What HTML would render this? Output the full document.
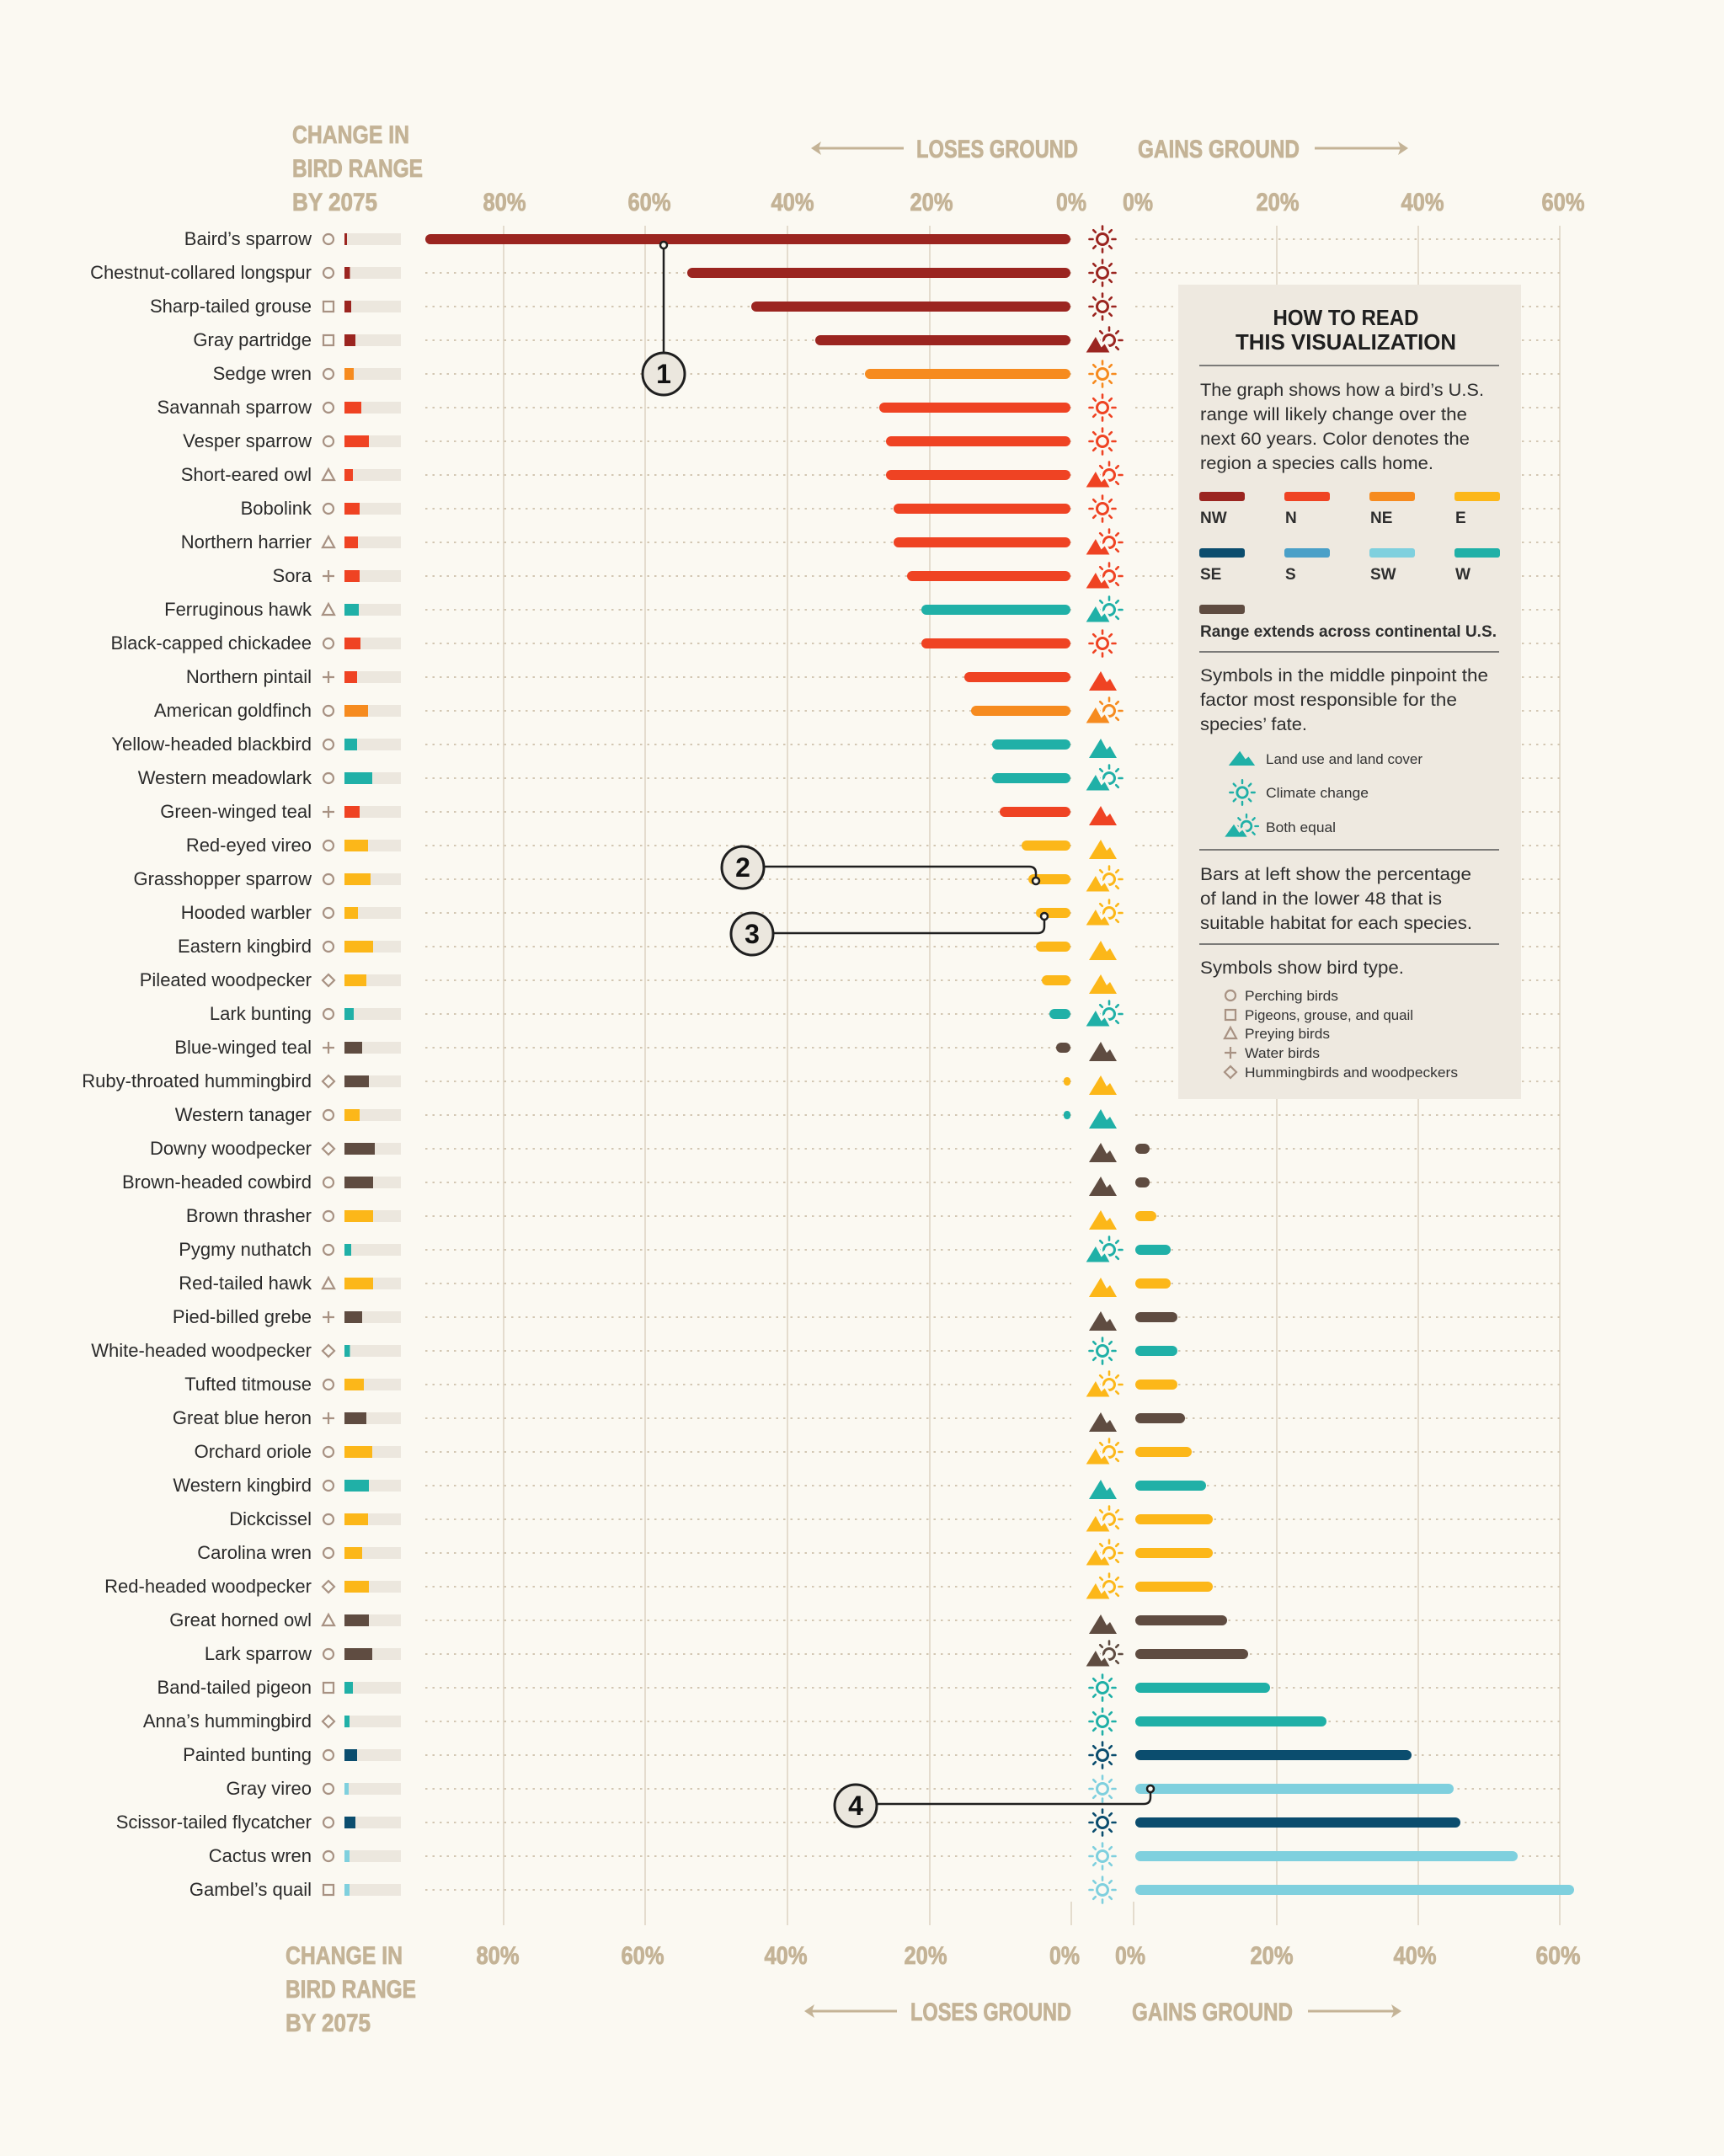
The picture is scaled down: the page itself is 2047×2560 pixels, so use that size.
<!DOCTYPE html>
<html><head><meta charset="utf-8"><style>
html,body{margin:0;padding:0;background:#fbf9f2}
svg{display:block}
.lbl{font-family:"Liberation Sans",sans-serif;font-size:22px;fill:#2b2b2b;text-anchor:end}
.hd{font-family:"Liberation Sans",sans-serif;font-weight:bold;font-size:30px;fill:#c4b396;stroke:#c4b396;stroke-width:0.8}
.ax{font-family:"Liberation Sans",sans-serif;font-weight:bold;font-size:30px;fill:#c4b396;stroke:#c4b396;stroke-width:0.8;text-anchor:middle}
.lg{font-family:"Liberation Sans",sans-serif;font-size:21px;fill:#2e2e2e}
.lgs{font-family:"Liberation Sans",sans-serif;font-size:17px;fill:#333}
.lgb{font-family:"Liberation Sans",sans-serif;font-size:19px;font-weight:bold;fill:#2e2e2e}
.nw{fill:#9b2520;color:#9b2520}.n{fill:#ef4323;color:#ef4323}.ne{fill:#f68b1f;color:#f68b1f}.e{fill:#fcb719;color:#fcb719}
.se{fill:#0b4d6e;color:#0b4d6e}.s{fill:#4aa0c8;color:#4aa0c8}.sw{fill:#7fd0de;color:#7fd0de}.w{fill:#20b0a7;color:#20b0a7}.br{fill:#5f4c41;color:#5f4c41}
.bg{fill:#ece7de}
.ts{fill:none;stroke:#a89283;stroke-width:2.2}
.dl{stroke:#d3c7b3;stroke-width:2;stroke-dasharray:2.5 6}
</style></head><body>
<svg width="2047" height="2560" viewBox="0 0 2047 2560" xmlns="http://www.w3.org/2000/svg" xmlns:xlink="http://www.w3.org/1999/xlink">
<defs>
<g id="sun" fill="none" stroke="currentColor" stroke-width="3" stroke-linecap="round"><circle r="6.5"/><path stroke-width="2.6" d="M0,-11.5V-15.5M0,11.5V15.5M11.5,0H15.5M-11.5,0H-15.5M8.2,-8.2L10.8,-10.8M-8.2,-8.2L-10.8,-10.8M8.2,8.2L10.8,10.8M-8.2,8.2L-10.8,10.8"/></g>
<path id="mtn" d="M-16,16 L-2,-7 L5,6 L9,2 L17,16Z" fill="currentColor"/>
<circle id="tO" cx="390" cy="0" r="6" class="ts"/>
<rect id="tS" x="384" y="-6" width="12" height="12" class="ts"/>
<polygon id="tT" points="390,-7 397,6 383,6" class="ts"/>
<path id="tP" d="M383,0H397M390,-7V7" class="ts"/>
<polygon id="tD" points="390,-7 397,0 390,7 383,0" class="ts"/>
</defs>
<rect width="2047" height="2560" fill="#fbf9f2"/>

<g stroke="#ddd2c1" stroke-width="1.5">
<line x1="598" y1="268" x2="598" y2="2286"/><line x1="766" y1="268" x2="766" y2="2286"/>
<line x1="935" y1="268" x2="935" y2="2286"/><line x1="1104" y1="268" x2="1104" y2="2286"/>
<line x1="1516" y1="268" x2="1516" y2="2286"/><line x1="1684" y1="268" x2="1684" y2="2286"/>
<line x1="1852" y1="268" x2="1852" y2="2286"/>
<line x1="1272" y1="2258" x2="1272" y2="2286"/><line x1="1346" y1="2258" x2="1346" y2="2286"/>
</g>
<g class="dl">
<path d="M505,284H1272M1348,284H1852M505,324H1272M1348,324H1852M505,364H1272M1348,364H1852M505,404H1272M1348,404H1852M505,444H1272M1348,444H1852M505,484H1272M1348,484H1852M505,524H1272M1348,524H1852M505,564H1272M1348,564H1852M505,604H1272M1348,604H1852M505,644H1272M1348,644H1852M505,684H1272M1348,684H1852M505,724H1272M1348,724H1852M505,764H1272M1348,764H1852M505,804H1272M1348,804H1852M505,844H1272M1348,844H1852M505,884H1272M1348,884H1852M505,924H1272M1348,924H1852M505,964H1272M1348,964H1852M505,1004H1272M1348,1004H1852M505,1044H1272M1348,1044H1852M505,1084H1272M1348,1084H1852M505,1124H1272M1348,1124H1852M505,1164H1272M1348,1164H1852M505,1204H1272M1348,1204H1852M505,1244H1272M1348,1244H1852M505,1284H1272M1348,1284H1852M505,1324H1272M1348,1324H1852M505,1364H1272M1348,1364H1852M505,1404H1272M1348,1404H1852M505,1444H1272M1348,1444H1852M505,1484H1272M1348,1484H1852M505,1524H1272M1348,1524H1852M505,1564H1272M1348,1564H1852M505,1604H1272M1348,1604H1852M505,1644H1272M1348,1644H1852M505,1684H1272M1348,1684H1852M505,1724H1272M1348,1724H1852M505,1764H1272M1348,1764H1852M505,1804H1272M1348,1804H1852M505,1844H1272M1348,1844H1852M505,1884H1272M1348,1884H1852M505,1924H1272M1348,1924H1852M505,1964H1272M1348,1964H1852M505,2004H1272M1348,2004H1852M505,2044H1272M1348,2044H1852M505,2084H1272M1348,2084H1852M505,2124H1272M1348,2124H1852M505,2164H1272M1348,2164H1852M505,2204H1272M1348,2204H1852M505,2244H1272M1348,2244H1852"/>
</g>

<text class="hd" x="347" y="170" textLength="139" lengthAdjust="spacingAndGlyphs">CHANGE IN</text>
<text class="hd" x="347" y="210" textLength="155" lengthAdjust="spacingAndGlyphs">BIRD RANGE</text>
<text class="hd" x="347" y="250" textLength="101" lengthAdjust="spacingAndGlyphs">BY 2075</text>
<text class="hd" x="1088" y="187" textLength="192" lengthAdjust="spacingAndGlyphs">LOSES GROUND</text>
<text class="hd" x="1351" y="187" textLength="192" lengthAdjust="spacingAndGlyphs">GAINS GROUND</text>
<g stroke="#c4b396" stroke-width="3" fill="#c4b396"><line x1="968" y1="176" x2="1073" y2="176"/><polygon points="963,176 975,168 972,176 975,184" stroke="none"/>
<line x1="1561" y1="176" x2="1667" y2="176"/><polygon points="1672,176 1660,168 1663,176 1660,184" stroke="none"/></g>
<g>
<text class="ax" x="599" y="250" textLength="51" lengthAdjust="spacingAndGlyphs">80%</text>
<text class="ax" x="771" y="250" textLength="51" lengthAdjust="spacingAndGlyphs">60%</text>
<text class="ax" x="941" y="250" textLength="51" lengthAdjust="spacingAndGlyphs">40%</text>
<text class="ax" x="1106" y="250" textLength="51" lengthAdjust="spacingAndGlyphs">20%</text>
<text class="ax" x="1272" y="250" textLength="36" lengthAdjust="spacingAndGlyphs">0%</text>
<text class="ax" x="1351" y="250" textLength="36" lengthAdjust="spacingAndGlyphs">0%</text>
<text class="ax" x="1517" y="250" textLength="51" lengthAdjust="spacingAndGlyphs">20%</text>
<text class="ax" x="1689" y="250" textLength="51" lengthAdjust="spacingAndGlyphs">40%</text>
<text class="ax" x="1856" y="250" textLength="51" lengthAdjust="spacingAndGlyphs">60%</text>
</g>
<text class="hd" x="339" y="2332" textLength="139" lengthAdjust="spacingAndGlyphs">CHANGE IN</text>
<text class="hd" x="339" y="2372" textLength="155" lengthAdjust="spacingAndGlyphs">BIRD RANGE</text>
<text class="hd" x="339" y="2412" textLength="101" lengthAdjust="spacingAndGlyphs">BY 2075</text>
<text class="hd" x="1081" y="2399" textLength="191" lengthAdjust="spacingAndGlyphs">LOSES GROUND</text>
<text class="hd" x="1344" y="2399" textLength="191" lengthAdjust="spacingAndGlyphs">GAINS GROUND</text>
<g stroke="#c4b396" stroke-width="3" fill="#c4b396"><line x1="960" y1="2388" x2="1065" y2="2388"/><polygon points="955,2388 967,2380 964,2388 967,2396" stroke="none"/>
<line x1="1553" y1="2388" x2="1659" y2="2388"/><polygon points="1664,2388 1652,2380 1655,2388 1652,2396" stroke="none"/></g>
<g>
<text class="ax" x="591" y="2332" textLength="51" lengthAdjust="spacingAndGlyphs">80%</text>
<text class="ax" x="763" y="2332" textLength="51" lengthAdjust="spacingAndGlyphs">60%</text>
<text class="ax" x="933" y="2332" textLength="51" lengthAdjust="spacingAndGlyphs">40%</text>
<text class="ax" x="1099" y="2332" textLength="51" lengthAdjust="spacingAndGlyphs">20%</text>
<text class="ax" x="1264" y="2332" textLength="36" lengthAdjust="spacingAndGlyphs">0%</text>
<text class="ax" x="1342" y="2332" textLength="36" lengthAdjust="spacingAndGlyphs">0%</text>
<text class="ax" x="1510" y="2332" textLength="51" lengthAdjust="spacingAndGlyphs">20%</text>
<text class="ax" x="1680" y="2332" textLength="51" lengthAdjust="spacingAndGlyphs">40%</text>
<text class="ax" x="1850" y="2332" textLength="53" lengthAdjust="spacingAndGlyphs">60%</text>
</g>

<rect x="1399" y="338" width="407" height="967" fill="#eee9e0"/>
<g stroke="#555" stroke-width="1.5"><line x1="1424" y1="434" x2="1780" y2="434"/><line x1="1424" y1="774" x2="1780" y2="774"/><line x1="1424" y1="1009" x2="1780" y2="1009"/><line x1="1424" y1="1121" x2="1780" y2="1121"/></g>

<g transform="translate(0,284)"><text class="lbl" x="370" y="7">Baird’s sparrow</text><use href="#tO"/><rect class="bg" x="409" y="-7" width="67" height="14"/><rect class="nw" x="409" y="-7" width="3" height="14"/><rect class="nw" x="505" y="-6" width="766" height="12" rx="6"/><use href="#sun" x="1309" class="nw"/></g>
<g transform="translate(0,324)"><text class="lbl" x="370" y="7">Chestnut-collared longspur</text><use href="#tO"/><rect class="bg" x="409" y="-7" width="67" height="14"/><rect class="nw" x="409" y="-7" width="6.5" height="14"/><rect class="nw" x="816" y="-6" width="455" height="12" rx="6"/><use href="#sun" x="1309" class="nw"/></g>
<g transform="translate(0,364)"><text class="lbl" x="370" y="7">Sharp-tailed grouse</text><use href="#tS"/><rect class="bg" x="409" y="-7" width="67" height="14"/><rect class="nw" x="409" y="-7" width="8" height="14"/><rect class="nw" x="892" y="-6" width="379" height="12" rx="6"/><use href="#sun" x="1309" class="nw"/></g>
<g transform="translate(0,404)"><text class="lbl" x="370" y="7">Gray partridge</text><use href="#tS"/><rect class="bg" x="409" y="-7" width="67" height="14"/><rect class="nw" x="409" y="-7" width="13" height="14"/><rect class="nw" x="968" y="-6" width="303" height="12" rx="6"/><use href="#sun" x="1317" class="nw"/><use href="#mtn" x="1303" class="nw" stroke="#fbf9f2" stroke-width="3"/></g>
<g transform="translate(0,444)"><text class="lbl" x="370" y="7">Sedge wren</text><use href="#tO"/><rect class="bg" x="409" y="-7" width="67" height="14"/><rect class="ne" x="409" y="-7" width="11" height="14"/><rect class="ne" x="1027" y="-6" width="244" height="12" rx="6"/><use href="#sun" x="1309" class="ne"/></g>
<g transform="translate(0,484)"><text class="lbl" x="370" y="7">Savannah sparrow</text><use href="#tO"/><rect class="bg" x="409" y="-7" width="67" height="14"/><rect class="n" x="409" y="-7" width="20" height="14"/><rect class="n" x="1044" y="-6" width="227" height="12" rx="6"/><use href="#sun" x="1309" class="n"/></g>
<g transform="translate(0,524)"><text class="lbl" x="370" y="7">Vesper sparrow</text><use href="#tO"/><rect class="bg" x="409" y="-7" width="67" height="14"/><rect class="n" x="409" y="-7" width="29" height="14"/><rect class="n" x="1052" y="-6" width="219" height="12" rx="6"/><use href="#sun" x="1309" class="n"/></g>
<g transform="translate(0,564)"><text class="lbl" x="370" y="7">Short-eared owl</text><use href="#tT"/><rect class="bg" x="409" y="-7" width="67" height="14"/><rect class="n" x="409" y="-7" width="10" height="14"/><rect class="n" x="1052" y="-6" width="219" height="12" rx="6"/><use href="#sun" x="1317" class="n"/><use href="#mtn" x="1303" class="n" stroke="#fbf9f2" stroke-width="3"/></g>
<g transform="translate(0,604)"><text class="lbl" x="370" y="7">Bobolink</text><use href="#tO"/><rect class="bg" x="409" y="-7" width="67" height="14"/><rect class="n" x="409" y="-7" width="18" height="14"/><rect class="n" x="1061" y="-6" width="210" height="12" rx="6"/><use href="#sun" x="1309" class="n"/></g>
<g transform="translate(0,644)"><text class="lbl" x="370" y="7">Northern harrier</text><use href="#tT"/><rect class="bg" x="409" y="-7" width="67" height="14"/><rect class="n" x="409" y="-7" width="16" height="14"/><rect class="n" x="1061" y="-6" width="210" height="12" rx="6"/><use href="#sun" x="1317" class="n"/><use href="#mtn" x="1303" class="n" stroke="#fbf9f2" stroke-width="3"/></g>
<g transform="translate(0,684)"><text class="lbl" x="370" y="7">Sora</text><use href="#tP"/><rect class="bg" x="409" y="-7" width="67" height="14"/><rect class="n" x="409" y="-7" width="18" height="14"/><rect class="n" x="1077" y="-6" width="194" height="12" rx="6"/><use href="#sun" x="1317" class="n"/><use href="#mtn" x="1303" class="n" stroke="#fbf9f2" stroke-width="3"/></g>
<g transform="translate(0,724)"><text class="lbl" x="370" y="7">Ferruginous hawk</text><use href="#tT"/><rect class="bg" x="409" y="-7" width="67" height="14"/><rect class="w" x="409" y="-7" width="17" height="14"/><rect class="w" x="1094" y="-6" width="177" height="12" rx="6"/><use href="#sun" x="1317" class="w"/><use href="#mtn" x="1303" class="w" stroke="#fbf9f2" stroke-width="3"/></g>
<g transform="translate(0,764)"><text class="lbl" x="370" y="7">Black-capped chickadee</text><use href="#tO"/><rect class="bg" x="409" y="-7" width="67" height="14"/><rect class="n" x="409" y="-7" width="19" height="14"/><rect class="n" x="1094" y="-6" width="177" height="12" rx="6"/><use href="#sun" x="1309" class="n"/></g>
<g transform="translate(0,804)"><text class="lbl" x="370" y="7">Northern pintail</text><use href="#tP"/><rect class="bg" x="409" y="-7" width="67" height="14"/><rect class="n" x="409" y="-7" width="15" height="14"/><rect class="n" x="1145" y="-6" width="126" height="12" rx="6"/><use href="#mtn" x="1309" class="n"/></g>
<g transform="translate(0,844)"><text class="lbl" x="370" y="7">American goldfinch</text><use href="#tO"/><rect class="bg" x="409" y="-7" width="67" height="14"/><rect class="ne" x="409" y="-7" width="28" height="14"/><rect class="ne" x="1153" y="-6" width="118" height="12" rx="6"/><use href="#sun" x="1317" class="ne"/><use href="#mtn" x="1303" class="ne" stroke="#fbf9f2" stroke-width="3"/></g>
<g transform="translate(0,884)"><text class="lbl" x="370" y="7">Yellow-headed blackbird</text><use href="#tO"/><rect class="bg" x="409" y="-7" width="67" height="14"/><rect class="w" x="409" y="-7" width="15" height="14"/><rect class="w" x="1178" y="-6" width="93" height="12" rx="6"/><use href="#mtn" x="1309" class="w"/></g>
<g transform="translate(0,924)"><text class="lbl" x="370" y="7">Western meadowlark</text><use href="#tO"/><rect class="bg" x="409" y="-7" width="67" height="14"/><rect class="w" x="409" y="-7" width="33" height="14"/><rect class="w" x="1178" y="-6" width="93" height="12" rx="6"/><use href="#sun" x="1317" class="w"/><use href="#mtn" x="1303" class="w" stroke="#fbf9f2" stroke-width="3"/></g>
<g transform="translate(0,964)"><text class="lbl" x="370" y="7">Green-winged teal</text><use href="#tP"/><rect class="bg" x="409" y="-7" width="67" height="14"/><rect class="n" x="409" y="-7" width="18" height="14"/><rect class="n" x="1187" y="-6" width="84" height="12" rx="6"/><use href="#mtn" x="1309" class="n"/></g>
<g transform="translate(0,1004)"><text class="lbl" x="370" y="7">Red-eyed vireo</text><use href="#tO"/><rect class="bg" x="409" y="-7" width="67" height="14"/><rect class="e" x="409" y="-7" width="28" height="14"/><rect class="e" x="1213" y="-6" width="58" height="12" rx="6"/><use href="#mtn" x="1309" class="e"/></g>
<g transform="translate(0,1044)"><text class="lbl" x="370" y="7">Grasshopper sparrow</text><use href="#tO"/><rect class="bg" x="409" y="-7" width="67" height="14"/><rect class="e" x="409" y="-7" width="31" height="14"/><rect class="e" x="1221" y="-6" width="50" height="12" rx="6"/><use href="#sun" x="1317" class="e"/><use href="#mtn" x="1303" class="e" stroke="#fbf9f2" stroke-width="3"/></g>
<g transform="translate(0,1084)"><text class="lbl" x="370" y="7">Hooded warbler</text><use href="#tO"/><rect class="bg" x="409" y="-7" width="67" height="14"/><rect class="e" x="409" y="-7" width="16" height="14"/><rect class="e" x="1230" y="-6" width="41" height="12" rx="6"/><use href="#sun" x="1317" class="e"/><use href="#mtn" x="1303" class="e" stroke="#fbf9f2" stroke-width="3"/></g>
<g transform="translate(0,1124)"><text class="lbl" x="370" y="7">Eastern kingbird</text><use href="#tO"/><rect class="bg" x="409" y="-7" width="67" height="14"/><rect class="e" x="409" y="-7" width="34" height="14"/><rect class="e" x="1230" y="-6" width="41" height="12" rx="6"/><use href="#mtn" x="1309" class="e"/></g>
<g transform="translate(0,1164)"><text class="lbl" x="370" y="7">Pileated woodpecker</text><use href="#tD"/><rect class="bg" x="409" y="-7" width="67" height="14"/><rect class="e" x="409" y="-7" width="26" height="14"/><rect class="e" x="1237" y="-6" width="34" height="12" rx="6"/><use href="#mtn" x="1309" class="e"/></g>
<g transform="translate(0,1204)"><text class="lbl" x="370" y="7">Lark bunting</text><use href="#tO"/><rect class="bg" x="409" y="-7" width="67" height="14"/><rect class="w" x="409" y="-7" width="11" height="14"/><rect class="w" x="1246" y="-6" width="25" height="12" rx="6"/><use href="#sun" x="1317" class="w"/><use href="#mtn" x="1303" class="w" stroke="#fbf9f2" stroke-width="3"/></g>
<g transform="translate(0,1244)"><text class="lbl" x="370" y="7">Blue-winged teal</text><use href="#tP"/><rect class="bg" x="409" y="-7" width="67" height="14"/><rect class="br" x="409" y="-7" width="21" height="14"/><rect class="br" x="1254" y="-6" width="17" height="12" rx="6"/><use href="#mtn" x="1309" class="br"/></g>
<g transform="translate(0,1284)"><text class="lbl" x="370" y="7">Ruby-throated hummingbird</text><use href="#tD"/><rect class="bg" x="409" y="-7" width="67" height="14"/><rect class="br" x="409" y="-7" width="29" height="14"/><rect class="e" x="1263" y="-5" width="8" height="10" rx="4"/><use href="#mtn" x="1309" class="e"/></g>
<g transform="translate(0,1324)"><text class="lbl" x="370" y="7">Western tanager</text><use href="#tO"/><rect class="bg" x="409" y="-7" width="67" height="14"/><rect class="e" x="409" y="-7" width="18" height="14"/><rect class="w" x="1263" y="-5" width="8" height="10" rx="4"/><use href="#mtn" x="1309" class="w"/></g>
<g transform="translate(0,1364)"><text class="lbl" x="370" y="7">Downy woodpecker</text><use href="#tD"/><rect class="bg" x="409" y="-7" width="67" height="14"/><rect class="br" x="409" y="-7" width="36" height="14"/><rect class="br" x="1348" y="-6" width="17" height="12" rx="6"/><use href="#mtn" x="1309" class="br"/></g>
<g transform="translate(0,1404)"><text class="lbl" x="370" y="7">Brown-headed cowbird</text><use href="#tO"/><rect class="bg" x="409" y="-7" width="67" height="14"/><rect class="br" x="409" y="-7" width="34" height="14"/><rect class="br" x="1348" y="-6" width="17" height="12" rx="6"/><use href="#mtn" x="1309" class="br"/></g>
<g transform="translate(0,1444)"><text class="lbl" x="370" y="7">Brown thrasher</text><use href="#tO"/><rect class="bg" x="409" y="-7" width="67" height="14"/><rect class="e" x="409" y="-7" width="34" height="14"/><rect class="e" x="1348" y="-6" width="25" height="12" rx="6"/><use href="#mtn" x="1309" class="e"/></g>
<g transform="translate(0,1484)"><text class="lbl" x="370" y="7">Pygmy nuthatch</text><use href="#tO"/><rect class="bg" x="409" y="-7" width="67" height="14"/><rect class="w" x="409" y="-7" width="8" height="14"/><rect class="w" x="1348" y="-6" width="42" height="12" rx="6"/><use href="#sun" x="1317" class="w"/><use href="#mtn" x="1303" class="w" stroke="#fbf9f2" stroke-width="3"/></g>
<g transform="translate(0,1524)"><text class="lbl" x="370" y="7">Red-tailed hawk</text><use href="#tT"/><rect class="bg" x="409" y="-7" width="67" height="14"/><rect class="e" x="409" y="-7" width="34" height="14"/><rect class="e" x="1348" y="-6" width="42" height="12" rx="6"/><use href="#mtn" x="1309" class="e"/></g>
<g transform="translate(0,1564)"><text class="lbl" x="370" y="7">Pied-billed grebe</text><use href="#tP"/><rect class="bg" x="409" y="-7" width="67" height="14"/><rect class="br" x="409" y="-7" width="21" height="14"/><rect class="br" x="1348" y="-6" width="50" height="12" rx="6"/><use href="#mtn" x="1309" class="br"/></g>
<g transform="translate(0,1604)"><text class="lbl" x="370" y="7">White-headed woodpecker</text><use href="#tD"/><rect class="bg" x="409" y="-7" width="67" height="14"/><rect class="w" x="409" y="-7" width="6.5" height="14"/><rect class="w" x="1348" y="-6" width="50" height="12" rx="6"/><use href="#sun" x="1309" class="w"/></g>
<g transform="translate(0,1644)"><text class="lbl" x="370" y="7">Tufted titmouse</text><use href="#tO"/><rect class="bg" x="409" y="-7" width="67" height="14"/><rect class="e" x="409" y="-7" width="23" height="14"/><rect class="e" x="1348" y="-6" width="50" height="12" rx="6"/><use href="#sun" x="1317" class="e"/><use href="#mtn" x="1303" class="e" stroke="#fbf9f2" stroke-width="3"/></g>
<g transform="translate(0,1684)"><text class="lbl" x="370" y="7">Great blue heron</text><use href="#tP"/><rect class="bg" x="409" y="-7" width="67" height="14"/><rect class="br" x="409" y="-7" width="26" height="14"/><rect class="br" x="1348" y="-6" width="59" height="12" rx="6"/><use href="#mtn" x="1309" class="br"/></g>
<g transform="translate(0,1724)"><text class="lbl" x="370" y="7">Orchard oriole</text><use href="#tO"/><rect class="bg" x="409" y="-7" width="67" height="14"/><rect class="e" x="409" y="-7" width="33" height="14"/><rect class="e" x="1348" y="-6" width="67" height="12" rx="6"/><use href="#sun" x="1317" class="e"/><use href="#mtn" x="1303" class="e" stroke="#fbf9f2" stroke-width="3"/></g>
<g transform="translate(0,1764)"><text class="lbl" x="370" y="7">Western kingbird</text><use href="#tO"/><rect class="bg" x="409" y="-7" width="67" height="14"/><rect class="w" x="409" y="-7" width="29" height="14"/><rect class="w" x="1348" y="-6" width="84" height="12" rx="6"/><use href="#mtn" x="1309" class="w"/></g>
<g transform="translate(0,1804)"><text class="lbl" x="370" y="7">Dickcissel</text><use href="#tO"/><rect class="bg" x="409" y="-7" width="67" height="14"/><rect class="e" x="409" y="-7" width="28" height="14"/><rect class="e" x="1348" y="-6" width="92" height="12" rx="6"/><use href="#sun" x="1317" class="e"/><use href="#mtn" x="1303" class="e" stroke="#fbf9f2" stroke-width="3"/></g>
<g transform="translate(0,1844)"><text class="lbl" x="370" y="7">Carolina wren</text><use href="#tO"/><rect class="bg" x="409" y="-7" width="67" height="14"/><rect class="e" x="409" y="-7" width="21" height="14"/><rect class="e" x="1348" y="-6" width="92" height="12" rx="6"/><use href="#sun" x="1317" class="e"/><use href="#mtn" x="1303" class="e" stroke="#fbf9f2" stroke-width="3"/></g>
<g transform="translate(0,1884)"><text class="lbl" x="370" y="7">Red-headed woodpecker</text><use href="#tD"/><rect class="bg" x="409" y="-7" width="67" height="14"/><rect class="e" x="409" y="-7" width="29" height="14"/><rect class="e" x="1348" y="-6" width="92" height="12" rx="6"/><use href="#sun" x="1317" class="e"/><use href="#mtn" x="1303" class="e" stroke="#fbf9f2" stroke-width="3"/></g>
<g transform="translate(0,1924)"><text class="lbl" x="370" y="7">Great horned owl</text><use href="#tT"/><rect class="bg" x="409" y="-7" width="67" height="14"/><rect class="br" x="409" y="-7" width="29" height="14"/><rect class="br" x="1348" y="-6" width="109" height="12" rx="6"/><use href="#mtn" x="1309" class="br"/></g>
<g transform="translate(0,1964)"><text class="lbl" x="370" y="7">Lark sparrow</text><use href="#tO"/><rect class="bg" x="409" y="-7" width="67" height="14"/><rect class="br" x="409" y="-7" width="33" height="14"/><rect class="br" x="1348" y="-6" width="134" height="12" rx="6"/><use href="#sun" x="1317" class="br"/><use href="#mtn" x="1303" class="br" stroke="#fbf9f2" stroke-width="3"/></g>
<g transform="translate(0,2004)"><text class="lbl" x="370" y="7">Band-tailed pigeon</text><use href="#tS"/><rect class="bg" x="409" y="-7" width="67" height="14"/><rect class="w" x="409" y="-7" width="10" height="14"/><rect class="w" x="1348" y="-6" width="160" height="12" rx="6"/><use href="#sun" x="1309" class="w"/></g>
<g transform="translate(0,2044)"><text class="lbl" x="370" y="7">Anna’s hummingbird</text><use href="#tD"/><rect class="bg" x="409" y="-7" width="67" height="14"/><rect class="w" x="409" y="-7" width="6" height="14"/><rect class="w" x="1348" y="-6" width="227" height="12" rx="6"/><use href="#sun" x="1309" class="w"/></g>
<g transform="translate(0,2084)"><text class="lbl" x="370" y="7">Painted bunting</text><use href="#tO"/><rect class="bg" x="409" y="-7" width="67" height="14"/><rect class="se" x="409" y="-7" width="15" height="14"/><rect class="se" x="1348" y="-6" width="328" height="12" rx="6"/><use href="#sun" x="1309" class="se"/></g>
<g transform="translate(0,2124)"><text class="lbl" x="370" y="7">Gray vireo</text><use href="#tO"/><rect class="bg" x="409" y="-7" width="67" height="14"/><rect class="sw" x="409" y="-7" width="5" height="14"/><rect class="sw" x="1348" y="-6" width="378" height="12" rx="6"/><use href="#sun" x="1309" class="sw"/></g>
<g transform="translate(0,2164)"><text class="lbl" x="370" y="7">Scissor-tailed flycatcher</text><use href="#tO"/><rect class="bg" x="409" y="-7" width="67" height="14"/><rect class="se" x="409" y="-7" width="13" height="14"/><rect class="se" x="1348" y="-6" width="386" height="12" rx="6"/><use href="#sun" x="1309" class="se"/></g>
<g transform="translate(0,2204)"><text class="lbl" x="370" y="7">Cactus wren</text><use href="#tO"/><rect class="bg" x="409" y="-7" width="67" height="14"/><rect class="sw" x="409" y="-7" width="6" height="14"/><rect class="sw" x="1348" y="-6" width="454" height="12" rx="6"/><use href="#sun" x="1309" class="sw"/></g>
<g transform="translate(0,2244)"><text class="lbl" x="370" y="7">Gambel’s quail</text><use href="#tS"/><rect class="bg" x="409" y="-7" width="67" height="14"/><rect class="sw" x="409" y="-7" width="6" height="14"/><rect class="sw" x="1348" y="-6" width="521" height="12" rx="6"/><use href="#sun" x="1309" class="sw"/></g>

<text x="1598" y="386" text-anchor="middle" textLength="173" lengthAdjust="spacingAndGlyphs" style="font-family:'Liberation Sans',sans-serif;font-weight:bold;font-size:26px;fill:#1f1f1f">HOW TO READ</text>
<text x="1598" y="415" text-anchor="middle" textLength="262" lengthAdjust="spacingAndGlyphs" style="font-family:'Liberation Sans',sans-serif;font-weight:bold;font-size:26px;fill:#1f1f1f">THIS VISUALIZATION</text>
<text class="lg" x="1425" y="470" textLength="337" lengthAdjust="spacingAndGlyphs">The graph shows how a bird’s U.S.</text>
<text class="lg" x="1425" y="499" textLength="317" lengthAdjust="spacingAndGlyphs">range will likely change over the</text>
<text class="lg" x="1425" y="528" textLength="320" lengthAdjust="spacingAndGlyphs">next 60 years. Color denotes the</text>
<text class="lg" x="1425" y="557" textLength="277" lengthAdjust="spacingAndGlyphs">region a species calls home.</text>
<rect class="nw" x="1424" y="584" width="54" height="11" rx="3"/><rect class="n" x="1525" y="584" width="54" height="11" rx="3"/><rect class="ne" x="1626" y="584" width="54" height="11" rx="3"/><rect class="e" x="1727" y="584" width="54" height="11" rx="3"/>
<text class="lgb" x="1425" y="621">NW</text><text class="lgb" x="1526" y="621">N</text><text class="lgb" x="1627" y="621">NE</text><text class="lgb" x="1728" y="621">E</text>
<rect class="se" x="1424" y="651" width="54" height="11" rx="3"/><rect class="s" x="1525" y="651" width="54" height="11" rx="3"/><rect class="sw" x="1626" y="651" width="54" height="11" rx="3"/><rect class="w" x="1727" y="651" width="54" height="11" rx="3"/>
<text class="lgb" x="1425" y="688">SE</text><text class="lgb" x="1526" y="688">S</text><text class="lgb" x="1627" y="688">SW</text><text class="lgb" x="1728" y="688">W</text>
<rect class="br" x="1424" y="718" width="54" height="11" rx="3"/>
<text class="lgb" x="1425" y="756" textLength="352" lengthAdjust="spacingAndGlyphs">Range extends across continental U.S.</text>
<text class="lg" x="1425" y="809" textLength="342" lengthAdjust="spacingAndGlyphs">Symbols in the middle pinpoint the</text>
<text class="lg" x="1425" y="838" textLength="305" lengthAdjust="spacingAndGlyphs">factor most responsible for the</text>
<text class="lg" x="1425" y="867" textLength="127" lengthAdjust="spacingAndGlyphs">species’ fate.</text>
<use href="#mtn" class="w" transform="translate(1474,897) scale(0.95,0.75)"/>
<use href="#sun" class="w" transform="translate(1475,941) scale(0.95)"/>
<use href="#sun" class="w" transform="translate(1480,981) scale(0.9)"/>
<use href="#mtn" class="w" stroke="#eee9e0" stroke-width="3" transform="translate(1467,982) scale(0.95,0.8)"/>
<text class="lgs" x="1503" y="907" textLength="186" lengthAdjust="spacingAndGlyphs">Land use and land cover</text>
<text class="lgs" x="1503" y="947" textLength="122" lengthAdjust="spacingAndGlyphs">Climate change</text>
<text class="lgs" x="1503" y="988" textLength="83" lengthAdjust="spacingAndGlyphs">Both equal</text>
<text class="lg" x="1425" y="1045" textLength="322" lengthAdjust="spacingAndGlyphs">Bars at left show the percentage</text>
<text class="lg" x="1425" y="1074" textLength="287" lengthAdjust="spacingAndGlyphs">of land in the lower 48 that is</text>
<text class="lg" x="1425" y="1103" textLength="323" lengthAdjust="spacingAndGlyphs">suitable habitat for each species.</text>
<text class="lg" x="1425" y="1156" textLength="242" lengthAdjust="spacingAndGlyphs">Symbols show bird type.</text>
<g transform="translate(1071,1182)"><use href="#tO"/></g>
<g transform="translate(1071,1205)"><use href="#tS"/></g>
<g transform="translate(1071,1227)"><use href="#tT"/></g>
<g transform="translate(1071,1250)"><use href="#tP"/></g>
<g transform="translate(1071,1273)"><use href="#tD"/></g>
<text class="lgs" x="1478" y="1188" textLength="111" lengthAdjust="spacingAndGlyphs">Perching birds</text>
<text class="lgs" x="1478" y="1211" textLength="200" lengthAdjust="spacingAndGlyphs">Pigeons, grouse, and quail</text>
<text class="lgs" x="1478" y="1233" textLength="101" lengthAdjust="spacingAndGlyphs">Preying birds</text>
<text class="lgs" x="1478" y="1256" textLength="89" lengthAdjust="spacingAndGlyphs">Water birds</text>
<text class="lgs" x="1478" y="1279" textLength="253" lengthAdjust="spacingAndGlyphs">Hummingbirds and woodpeckers</text>

<g fill="none" stroke="#1f1f1f" stroke-width="2.5">
<path d="M788,295V419"/>
<path d="M907,1029H1222Q1230,1029 1230,1037V1042"/>
<path d="M918,1108H1232Q1240,1108 1240,1100V1092"/>
<path d="M1041,2142H1358Q1366,2142 1366,2134V2128"/>
</g>
<g fill="#fbf9f2" stroke="#1f1f1f" stroke-width="2.5">
<circle cx="788" cy="291" r="4"/><circle cx="1230" cy="1046" r="4"/><circle cx="1240" cy="1088" r="4"/><circle cx="1366" cy="2124" r="4"/>
</g>
<g fill="#ebe7de" stroke="#1f1f1f" stroke-width="3">
<circle cx="788" cy="444" r="25"/><circle cx="882" cy="1030" r="25"/><circle cx="893" cy="1109" r="25"/><circle cx="1016" cy="2144" r="25"/>
</g>
<g style="font-family:'Liberation Sans',sans-serif;font-weight:bold;font-size:32px;fill:#111" text-anchor="middle">
<text x="788" y="455">1</text><text x="882" y="1041">2</text><text x="893" y="1120">3</text><text x="1016" y="2155">4</text>
</g>
</svg>
</body></html>
